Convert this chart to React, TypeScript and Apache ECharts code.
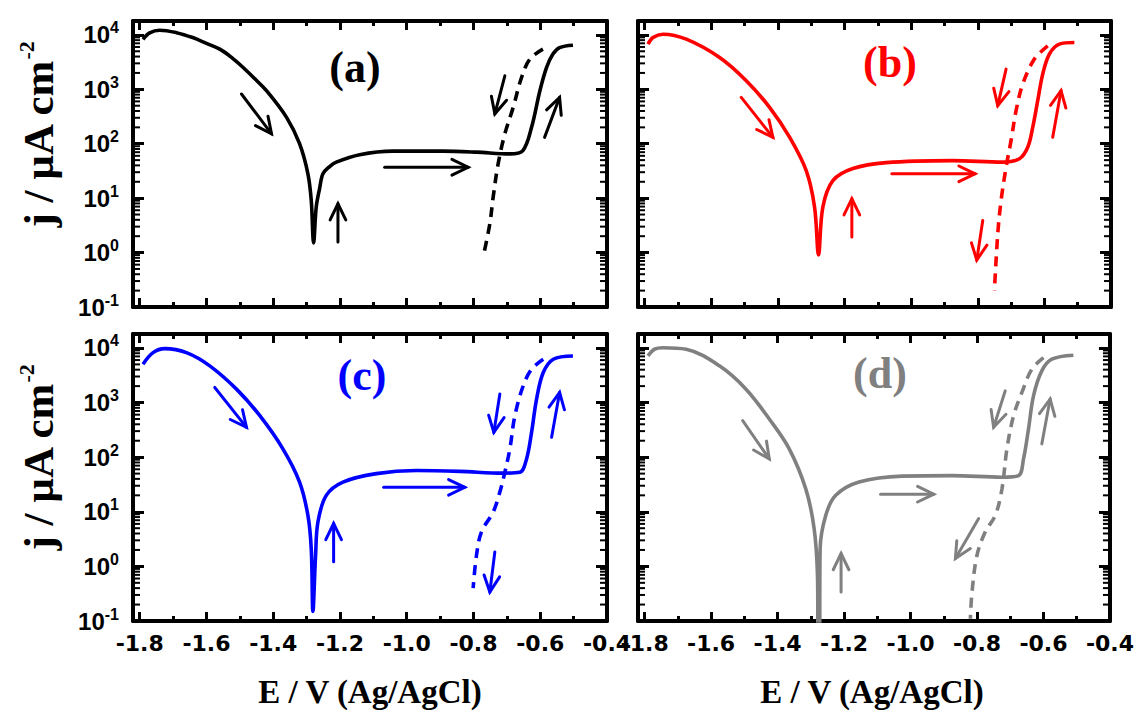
import React, { useEffect, useRef } from 'react';
import * as echarts from 'echarts';

type Pt = [number, number];
type Arrow = [number, number, number, number];

// ---- Data: [E (V vs Ag/AgCl), j (µA cm^-2)] ----
const solidA: Pt[] = [
  [-1.79, 8300], [-1.77, 10900], [-1.74, 12200], [-1.69, 11000], [-1.641, 8930], [-1.6, 7000], [-1.56, 5470],
  [-1.525, 3870], [-1.49, 2520], [-1.455, 1560], [-1.42, 942], [-1.36, 305], [-1.321, 100], [-1.296, 28], [-1.286, 9.1],
  [-1.279, 1.5], [-1.271, 6.9], [-1.261, 15], [-1.251, 28], [-1.231, 38], [-1.211, 46],
  [-1.141, 63], [-1.041, 73], [-0.891, 73], [-0.791, 70], [-0.691, 65], [-0.652, 75],
  [-0.626, 200], [-0.601, 940], [-0.581, 2520], [-0.562, 4440], [-0.542, 5850], [-0.502, 6470],
];
const dashedA: Pt[] = [
  [-0.592, 5470], [-0.631, 3590], [-0.656, 1650], [-0.681, 466], [-0.706, 152],
  [-0.726, 43], [-0.741, 10.5], [-0.751, 3.4], [-0.771, 0.83],
];
const arrowsA: Arrow[] = [
  [-1.495, 820, -1.405, 152], [-1.206, 1.57, -1.206, 7.9], [-1.066, 37, -0.816, 37],
  [-0.706, 1770, -0.736, 353], [-0.587, 131, -0.542, 711],
];

const solidB: Pt[] = [
  [-1.79, 6760], [-1.775, 8930], [-1.745, 10300], [-1.675, 8340], [-1.575, 3840], [-1.495, 1440],
  [-1.425, 466], [-1.365, 132], [-1.315, 32], [-1.29, 6.9], [-1.278, 0.9], [-1.265, 6.9],
  [-1.235, 21], [-1.175, 35], [-1.075, 45], [-0.875, 49], [-0.725, 46], [-0.675, 53],
  [-0.65, 86], [-0.635, 200], [-0.62, 620], [-0.605, 1900], [-0.585, 4440], [-0.555, 6760], [-0.51, 7230],
];
const dashedB: Pt[] = [
  [-0.59, 6300], [-0.63, 3590], [-0.665, 1250], [-0.685, 405], [-0.7, 115],
  [-0.715, 37], [-0.73, 9.1], [-0.74, 2.2], [-0.75, 0.2],
];
const arrowsB: Arrow[] = [
  [-1.51, 711, -1.415, 131], [-1.178, 1.94, -1.178, 9.8], [-1.058, 28, -0.808, 28],
  [-0.715, 2350, -0.74, 500], [-0.785, 3.9, -0.803, 0.73], [-0.575, 131, -0.55, 942],
];

const solidC: Pt[] = [
  [-1.79, 5050], [-1.76, 8200], [-1.725, 9700], [-1.66, 8200], [-1.59, 4700], [-1.51, 1760],
  [-1.44, 574], [-1.371, 142], [-1.321, 35], [-1.296, 8.6], [-1.286, 2.1], [-1.281, 0.15],
  [-1.273, 1.6], [-1.266, 6.5], [-1.241, 20], [-1.191, 35], [-1.091, 50], [-0.971, 57],
  [-0.841, 55], [-0.711, 51], [-0.661, 53], [-0.641, 93], [-0.626, 284], [-0.611, 1160],
  [-0.591, 3540], [-0.561, 6220], [-0.502, 7140],
];
const dashedC: Pt[] = [
  [-0.591, 6220], [-0.626, 4080], [-0.651, 2030], [-0.676, 574], [-0.691, 142], [-0.706, 53],
  [-0.721, 23], [-0.741, 9.9], [-0.776, 4.3], [-0.791, 1.6], [-0.801, 0.4],
];
const arrowsC: Arrow[] = [
  [-1.575, 1890, -1.48, 352], [-1.219, 1.21, -1.219, 6.1], [-1.069, 28, -0.826, 28],
  [-0.721, 1430, -0.739, 284], [-0.736, 1.84, -0.751, 0.34], [-0.566, 231, -0.542, 1530],
];

const solidD: Pt[] = [
  [-1.79, 7140], [-1.77, 9500], [-1.745, 10100], [-1.675, 9460], [-1.575, 4700], [-1.495, 1760],
  [-1.425, 500], [-1.365, 142], [-1.315, 26], [-1.29, 4.9], [-1.28, 0.69], [-1.278, 0.05],
  [-1.274, 0.05], [-1.272, 2.1], [-1.255, 8.6], [-1.225, 20], [-1.155, 35], [-1.025, 45],
  [-0.875, 46], [-0.725, 43], [-0.675, 46], [-0.66, 93], [-0.645, 330], [-0.63, 1330],
  [-0.605, 3800], [-0.575, 6220], [-0.51, 7360],
];
const dashedD: Pt[] = [
  [-0.6, 6650], [-0.635, 4080], [-0.665, 1530], [-0.69, 574], [-0.71, 142], [-0.725, 26],
  [-0.745, 8.6], [-0.775, 4.3], [-0.8, 1.6], [-0.815, 0.34], [-0.82, 0.11],
];
const arrowsD: Arrow[] = [
  [-1.505, 466, -1.425, 93], [-1.209, 0.34, -1.209, 1.72], [-1.09, 21, -0.93, 21],
  [-0.715, 1640, -0.75, 352], [-0.795, 7.5, -0.865, 1.39], [-0.605, 175, -0.58, 1160],
];

const panelLabels = ['(a)', '(b)', '(c)', '(d)'];
const panelColors = ['#000000', '#ff0000', '#0000ff', '#808080'];
const xRange = { min: -1.82, max: -0.4 };
const yRange = { min: 0.1, max: 18000 };
const decades = [-1, 0, 1, 2, 3, 4];
const minorMultipliers = [2, 3, 4, 5, 6, 7, 8, 9];
const xTitle = 'E / V (Ag/AgCl)';
const yTitle = 'j / µA cm';
const yTitleSup = '-2';

const PANELS = [
  { solid: solidA, dashed: dashedA, arrows: arrowsA },
  { solid: solidB, dashed: dashedB, arrows: arrowsB },
  { solid: solidC, dashed: dashedC, arrows: arrowsC },
  { solid: solidD, dashed: dashedD, arrows: arrowsD },
];

const SANS = '"Liberation Sans", Arial, sans-serif';
const WIDE_SANS = '"DejaVu Sans", "Liberation Sans", sans-serif';
const SERIF = '"Liberation Serif", "Times New Roman", serif';

const GRIDS = [
  { left: 133, top: 21, width: 474, height: 286 },
  { left: 638, top: 21, width: 473, height: 286 },
  { left: 133, top: 334, width: 474, height: 287 },
  { left: 638, top: 334, width: 473, height: 287 },
];

const LABEL_POS = [
  [355, 67], [890, 62], [362, 375], [880, 373],
];

// minor log tick positions (axis decoration, 2..9 per decade)
const minorTickValues: Pt[] = [];
decades.forEach((k) => {
  minorMultipliers.forEach((m) => {
    const v = m * Math.pow(10, k);
    if (v > yRange.min && v < yRange.max) minorTickValues.push([xRange.min, v]);
  });
});

function makeArrowRender(color: string) {
  return (_params: any, api: any) => {
    const p1 = api.coord([api.value(0), api.value(1)]);
    const p2 = api.coord([api.value(2), api.value(3)]);
    const ang = Math.atan2(p2[1] - p1[1], p2[0] - p1[0]);
    const L = 18;
    const a = 0.45;
    const h1 = [p2[0] - L * Math.cos(ang - a), p2[1] - L * Math.sin(ang - a)];
    const h2 = [p2[0] - L * Math.cos(ang + a), p2[1] - L * Math.sin(ang + a)];
    return {
      type: 'group',
      children: [
        {
          type: 'line',
          shape: { x1: p1[0], y1: p1[1], x2: p2[0], y2: p2[1] },
          style: { stroke: color, lineWidth: 3, lineCap: 'round' },
        },
        {
          type: 'polyline',
          shape: { points: [h1, p2, h2] },
          style: { stroke: color, lineWidth: 3, fill: null, lineCap: 'round', lineJoin: 'miter' },
        },
      ],
    };
  };
}

function minorTickRender(_params: any, api: any) {
  const v = api.value(1);
  const pl = api.coord([xRange.min, v]);
  const pr = api.coord([xRange.max, v]);
  return {
    type: 'group',
    children: [
      {
        type: 'line',
        shape: { x1: pl[0], y1: pl[1], x2: pl[0] + 7, y2: pl[1] },
        style: { stroke: '#000000', lineWidth: 2 },
      },
      {
        type: 'line',
        shape: { x1: pr[0], y1: pr[1], x2: pr[0] - 7, y2: pr[1] },
        style: { stroke: '#000000', lineWidth: 2 },
      },
    ],
  };
}

function buildOption() {
  const xAxis: any[] = [];
  const yAxis: any[] = [];
  const series: any[] = [];
  GRIDS.forEach((_, i) => {
    const showX = i >= 2;
    const showY = i % 2 === 0;
    const commonX = {
      type: 'value',
      gridIndex: i,
      min: xRange.min,
      max: xRange.max,
      splitNumber: 7,
      splitLine: { show: false },
      axisLine: { show: true, onZero: false, lineStyle: { color: '#000', width: 4 } },
      axisTick: { show: true, inside: true, length: 9, lineStyle: { color: '#000', width: 3 } },
      minorTick: { show: true, splitNumber: 2, length: 5, lineStyle: { color: '#000', width: 3 } },
    };
    xAxis.push({
      ...commonX,
      position: 'bottom',
      axisLabel: {
        show: showX,
        margin: 11,
        color: '#000',
        fontFamily: WIDE_SANS,
        fontWeight: 'bold',
        fontSize: 22,
        formatter: (v: number) =>
          Math.abs(v * 10 - Math.round(v * 10)) > 1e-6 ? '' : v.toFixed(1),
      },
    });
    xAxis.push({ ...commonX, position: 'top', axisLabel: { show: false } });

    const commonY = {
      type: 'log',
      logBase: 10,
      gridIndex: i,
      min: yRange.min,
      max: yRange.max,
      splitLine: { show: false },
      axisLine: { show: true, onZero: false, lineStyle: { color: '#000', width: 4 } },
      axisTick: { show: true, inside: true, length: 11, lineStyle: { color: '#000', width: 3 } },
      minorTick: { show: false },
    };
    yAxis.push({
      ...commonY,
      position: 'left',
      axisLabel: {
        show: showY,
        margin: 14,
        color: '#000',
        formatter: (v: number) => {
          const l = Math.log10(v);
          const r = Math.round(l);
          if (Math.abs(l - r) > 1e-6) return '';
          return `{b|10}{s|${r}}`;
        },
        rich: {
          b: { fontFamily: SANS, fontWeight: 'bold', fontSize: 24, color: '#000', lineHeight: 30 },
          s: { fontFamily: SANS, fontWeight: 'bold', fontSize: 16, color: '#000', lineHeight: 14, verticalAlign: 'top' },
        },
      },
    });
    yAxis.push({ ...commonY, position: 'right', axisLabel: { show: false } });

    const color = panelColors[i];
    const p = PANELS[i];
    series.push({
      type: 'custom',
      xAxisIndex: 2 * i,
      yAxisIndex: 2 * i,
      data: minorTickValues,
      encode: { x: 0, y: 1 },
      renderItem: minorTickRender,
      silent: true,
      clip: false,
      z: 5,
    });
    series.push({
      type: 'line',
      xAxisIndex: 2 * i,
      yAxisIndex: 2 * i,
      data: p.solid,
      showSymbol: false,
      symbol: 'none',
      smooth: 0.35,
      lineStyle: { color, width: 3.6 },
      z: 3,
    });
    series.push({
      type: 'line',
      xAxisIndex: 2 * i,
      yAxisIndex: 2 * i,
      data: p.dashed,
      showSymbol: false,
      symbol: 'none',
      smooth: 0.35,
      lineStyle: { color, width: 3.6, type: [10, 7] },
      z: 3,
    });
    series.push({
      type: 'custom',
      xAxisIndex: 2 * i,
      yAxisIndex: 2 * i,
      data: p.arrows,
      encode: { x: [0, 2], y: [1, 3] },
      renderItem: makeArrowRender(color),
      silent: true,
      z: 4,
    });
  });

  const graphic: any[] = [];
  LABEL_POS.forEach((pos, i) => {
    graphic.push({
      type: 'text',
      x: pos[0],
      y: pos[1],
      style: {
        text: panelLabels[i],
        fill: panelColors[i],
        font: `bold 44px ${SERIF}`,
        align: 'center',
        verticalAlign: 'middle',
      },
      z: 10,
    });
  });
  [
    [370, 692],
    [872, 692],
  ].forEach((pos) => {
    graphic.push({
      type: 'text',
      x: pos[0],
      y: pos[1],
      style: {
        text: xTitle,
        fill: '#000',
        font: `bold 33px ${SERIF}`,
        align: 'center',
        verticalAlign: 'middle',
      },
    });
  });
  [
    [38, 135],
    [38, 458],
  ].forEach((pos) => {
    graphic.push({
      type: 'text',
      x: pos[0],
      y: pos[1],
      rotation: Math.PI / 2,
      style: {
        text: `{n|${yTitle}}{s|${yTitleSup}}`,
        align: 'center',
        verticalAlign: 'middle',
        rich: {
          n: { fontFamily: SERIF, fontWeight: 'bold', fontSize: 43, fill: '#000', lineHeight: 46 },
          s: { fontFamily: SERIF, fontWeight: 'bold', fontSize: 22, fill: '#000', lineHeight: 22, verticalAlign: 'top' },
        },
      },
    });
  });

  return {
    animation: false,
    backgroundColor: '#ffffff',
    grid: GRIDS.map((g) => ({ ...g, containLabel: false })),
    xAxis,
    yAxis,
    series,
    graphic,
  };
}

export default function App() {
  const ref = useRef<HTMLDivElement>(null);
  useEffect(() => {
    if (!ref.current) return;
    const chart = echarts.init(ref.current, undefined, { renderer: 'svg' });
    chart.setOption(buildOption() as any);
    return () => chart.dispose();
  }, []);
  return (
    <div
      ref={ref}
      style={{ position: 'absolute', left: 0, top: 0, width: 1137, height: 712, background: '#fff' }}
    />
  );
}
